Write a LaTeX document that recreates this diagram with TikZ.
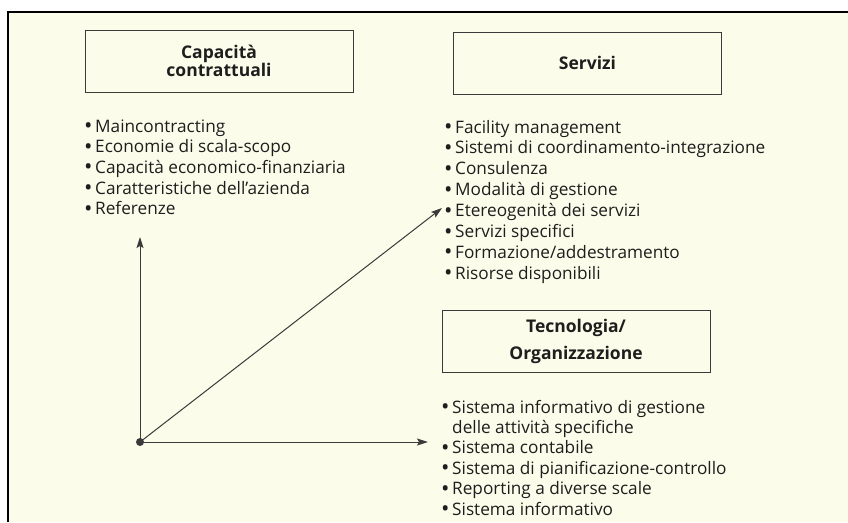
\documentclass[tikz,border=0pt]{standalone}
\usepackage{fontspec}
\setmainfont{Open Sans}
\usetikzlibrary{arrows.meta}
\definecolor{paper}{HTML}{FCFCEA}
\definecolor{ink}{HTML}{3A3A3A}
\definecolor{txt}{HTML}{1E1E1E}
\newcommand{\bul}{\makebox[11pt][l]{\raisebox{-1.5pt}{\scalebox{1.3}{\textbullet}}}}
\begin{document}
\begin{tikzpicture}[x=1pt,y=-1pt,
  head/.style={draw=ink, line width=0.9pt, minimum width=268pt, minimum height=62pt,
    align=center, inner sep=0pt, text=txt, font=\fontsize{17.5}{18.5}\selectfont\bfseries},
  items/.style={anchor=base west, inner sep=0pt, text=txt,
    font=\fontsize{17.2}{20.7}\selectfont},
  axis/.style={draw=ink, line width=1pt, -{Stealth[length=11pt,width=7pt,inset=2pt]}},
]
\useasboundingbox (0,0) rectangle (848,522);
\fill[white] (0,0) rectangle (848,522);
\fill[paper] (8,12) rectangle (848,522);
\draw[line width=2pt] (8,522) -- (8,12) -- (848,12);

% heading boxes
\node[head] (cap) at (219,61) {Capacità\\contrattuali};
\node[head] (serv) at (587.5,63) {Servizi};
\node[head, font=\fontsize{17.5}{27}\selectfont\bfseries] (tec) at (576,341)
  {Tecnologia/\\Organizzazione};

% item lists
\node[items] (l1) at (84,132) {\begin{tabular}[t]{@{}l@{}}
  \bul Maincontracting\\
  \bul Economie di scala-scopo\\
  \bul Capacità economico-finanziaria\\
  \bul Caratteristiche dell’azienda\\
  \bul Referenze
\end{tabular}};
\node[items, font=\fontsize{17.2}{20.9}\selectfont] (l2) at (444,133) {\begin{tabular}[t]{@{}l@{}}
  \bul Facility management\\
  \bul Sistemi di coordinamento-integrazione\\
  \bul Consulenza\\
  \bul Modalità di gestione\\
  \bul Etereogenità dei servizi\\
  \bul Servizi specifici\\
  \bul Formazione/addestramento\\
  \bul Risorse disponibili
\end{tabular}};
\node[items, font=\fontsize{17.2}{20.4}\selectfont] (l3) at (441,413) {\begin{tabular}[t]{@{}l@{}}
  \bul Sistema informativo di gestione\\
  \hspace{11pt}delle attività specifiche\\
  \bul Sistema contabile\\
  \bul Sistema di pianificazione-controllo\\
  \bul Reporting a diverse scale\\
  \bul Sistema informativo
\end{tabular}};

% axes
\node[circle, fill=ink, minimum size=8pt, inner sep=0pt] (o) at (140,442) {};
\coordinate (up) at (140,237);
\coordinate (rt) at (428,442);
\coordinate (dg) at (442,208);
\draw[axis] (o.center) -- (up);
\draw[axis] (o.center) -- (rt);
\draw[axis] (o.center) -- (dg);
\end{tikzpicture}
\end{document}
